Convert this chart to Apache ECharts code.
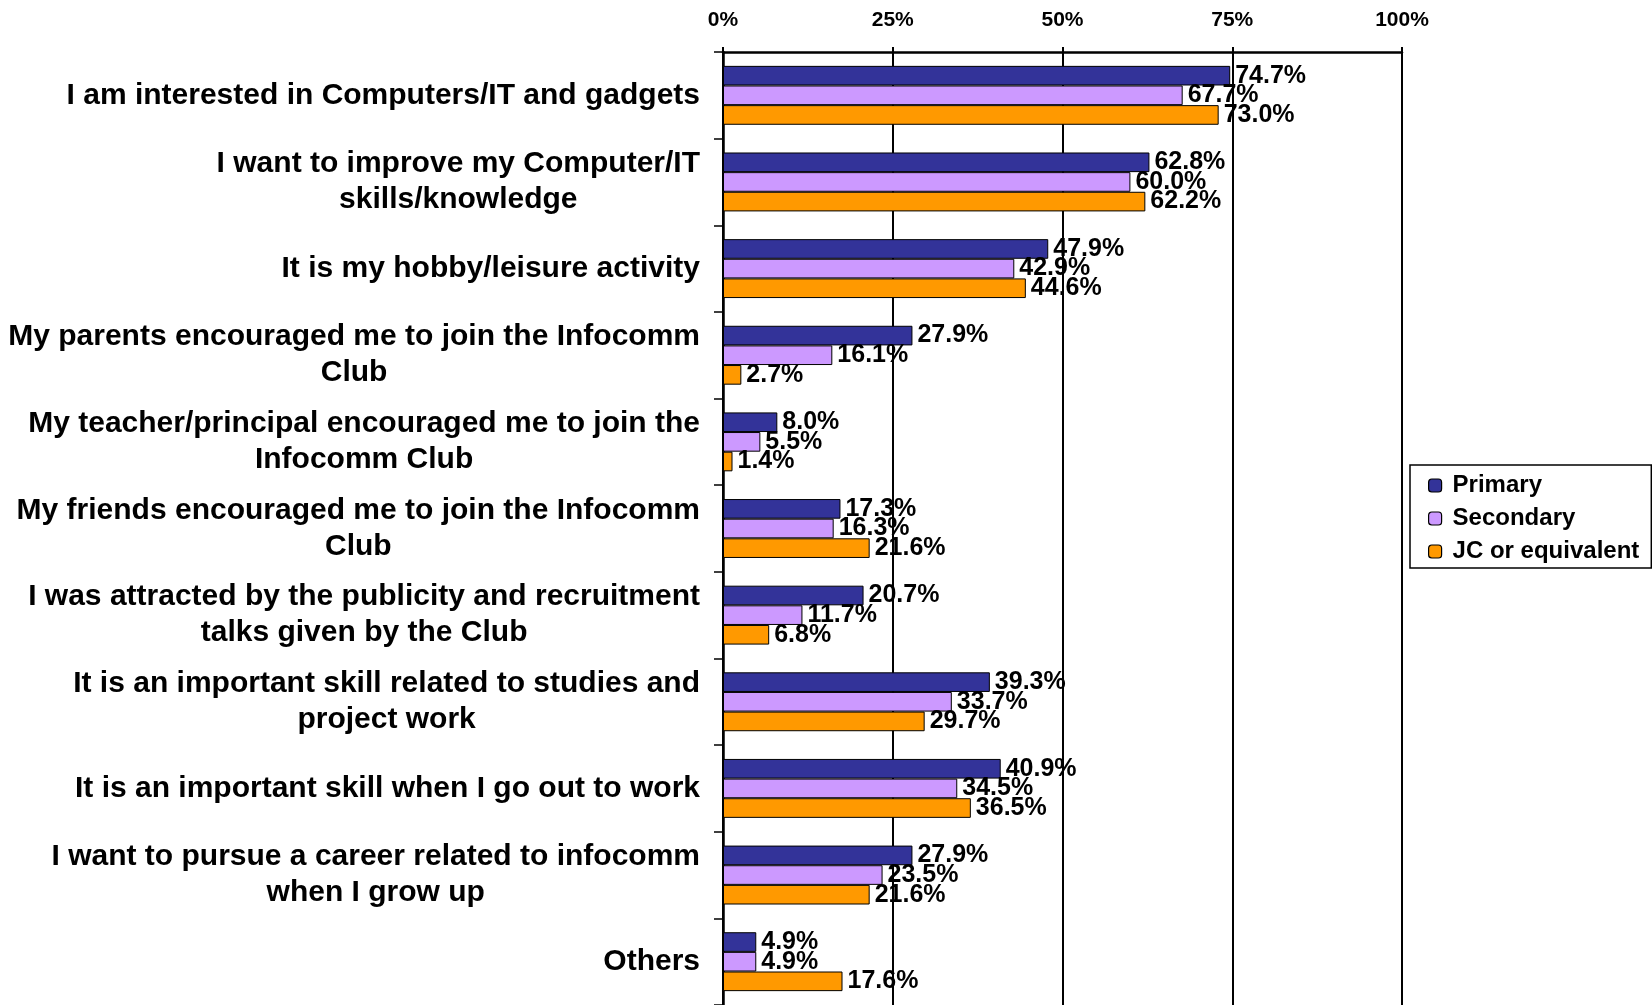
<!DOCTYPE html>
<html>
<head>
<meta charset="utf-8">
<script src="https://cdn.jsdelivr.net/npm/echarts@6/dist/echarts.min.js"></script>
<style>
  html, body { margin: 0; padding: 0; background: #fff; }
  #chart { width: 1652px; height: 1005px; }
</style>
</head>
<body>
<div id="chart"></div>
<script>
const categories = [
  'I am interested in Computers/IT and gadgets',
  'I want to improve my Computer/IT\nskills/knowledge',
  'It is my hobby/leisure activity',
  'My parents encouraged me to join the Infocomm\nClub',
  'My teacher/principal encouraged me to join the\nInfocomm Club',
  'My friends encouraged me to join the Infocomm\nClub',
  'I was attracted by the publicity and recruitment\ntalks given by the Club',
  'It is an important skill related to studies and\nproject work',
  'It is an important skill when I go out to work',
  'I want to pursue a career related to infocomm\nwhen I grow up',
  'Others'
]
const primary = [74.7, 62.8, 47.9, 27.9, 8.0, 17.3, 20.7, 39.3, 40.9, 27.9, 4.9]
const secondary = [67.7, 60.0, 42.9, 16.1, 5.5, 16.3, 11.7, 33.7, 34.5, 23.5, 4.9]
const jc = [73.0, 62.2, 44.6, 2.7, 1.4, 21.6, 6.8, 29.7, 36.5, 21.6, 17.6]
const seriesNames = ['Primary', 'Secondary', 'JC or equivalent']
const seriesColors = ['#333399', '#cc99ff', '#ff9900']
const tickValues = [0, 25, 50, 75, 100]

const font = "'Liberation Sans', Arial, sans-serif"

const chart = echarts.init(document.getElementById('chart'))

const makeBar = (name, data, color) => ({
  name: name,
  type: 'bar',
  data: data,
  barGap: '0%',
  barCategoryGap: '32%',
  itemStyle: {
    color: color,
    borderColor: '#000',
    borderWidth: 1
  },
  label: {
    show: true,
    position: 'right',
    distance: 5,
    color: '#000',
    fontFamily: font,
    fontWeight: 'bold',
    fontSize: 25,
    formatter: p => p.value.toFixed(1) + '%'
  }
})

chart.setOption({
  animation: false,
  backgroundColor: '#fff',
  grid: {
    left: 723,
    right: 250,
    top: 52,
    height: 957
  },
  legend: {
    data: seriesNames,
    orient: 'vertical',
    left: 1410,
    top: 465,
    padding: [8, 12, 4, 18],
    itemWidth: 13,
    itemHeight: 13,
    itemGap: 8,
    borderColor: '#000',
    borderWidth: 1.5,
    itemStyle: { borderColor: '#000', borderWidth: 1.2 },
    textStyle: {
      fontFamily: font,
      fontWeight: 'bold',
      fontSize: 24,
      lineHeight: 25,
      padding: [0, 0, 0, 6],
      color: '#000'
    }
  },
  xAxis: {
    type: 'value',
    position: 'top',
    min: tickValues[0],
    max: tickValues[tickValues.length - 1],
    interval: 25,
    axisLine: { show: true, lineStyle: { color: '#000', width: 2.5 } },
    axisTick: { show: true, length: 5, lineStyle: { color: '#000', width: 2 } },
    axisLabel: {
      margin: 21,
      color: '#000',
      fontFamily: font,
      fontWeight: 'bold',
      fontSize: 21,
      formatter: '{value}%'
    },
    splitLine: { show: true, lineStyle: { color: '#000', width: 2 } }
  },
  yAxis: {
    type: 'category',
    data: categories,
    inverse: true,
    axisLine: { show: true, lineStyle: { color: '#000', width: 2.5 } },
    axisTick: { show: true, length: 9, lineStyle: { color: '#000', width: 1.5 } },
    axisLabel: {
      margin: 23,
      color: '#000',
      formatter: v => v.split('\n').map(s => '{c|' + s + '}').join('\n'),
      rich: {
        c: {
          align: 'center',
          fontFamily: font,
          fontWeight: 'bold',
          fontSize: 30,
          lineHeight: 36,
          color: '#000'
        }
      }
    }
  },
  series: [
    makeBar(seriesNames[0], primary, seriesColors[0]),
    makeBar(seriesNames[1], secondary, seriesColors[1]),
    makeBar(seriesNames[2], jc, seriesColors[2])
  ]
})
</script>
</body>
</html>
